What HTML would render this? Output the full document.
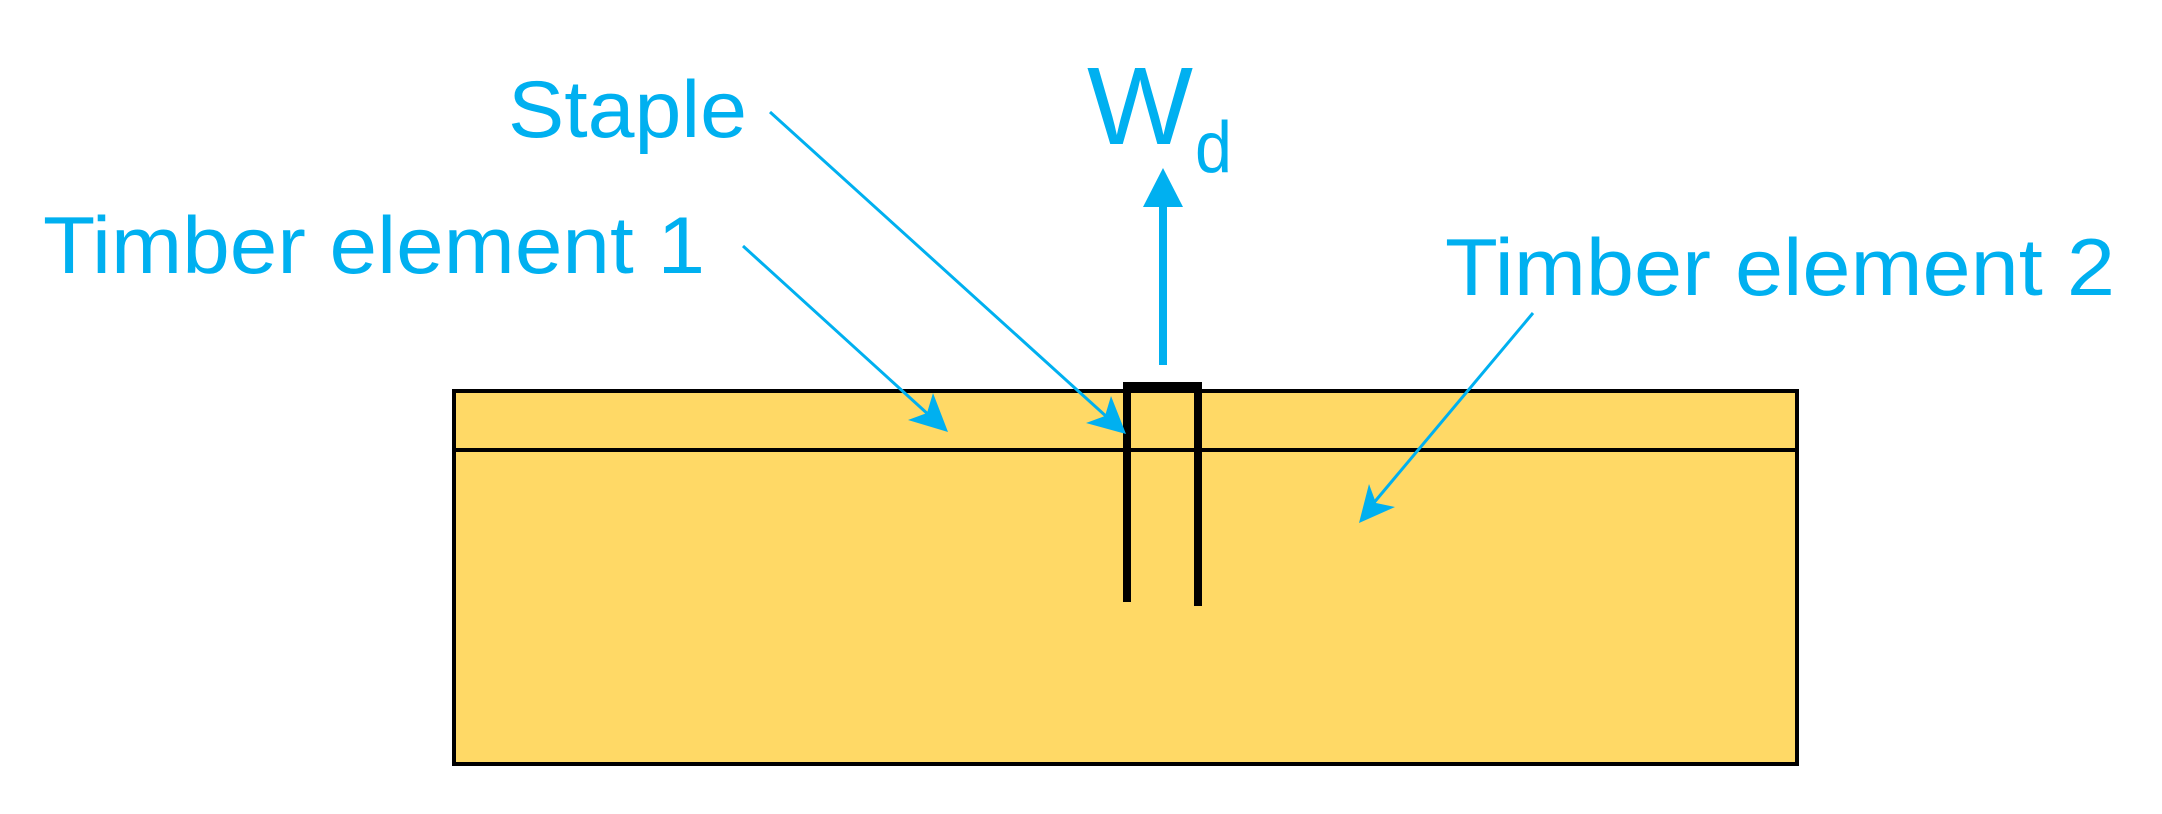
<!DOCTYPE html>
<html>
<head>
<meta charset="utf-8">
<style>
  html, body { margin: 0; padding: 0; background: #ffffff; }
  svg { display: block; }
  text { font-family: "Liberation Sans", "DejaVu Sans", sans-serif; fill: #00B0F0; }
</style>
</head>
<body>
<svg width="2162" height="814" viewBox="0 0 2162 814" xmlns="http://www.w3.org/2000/svg">
  <rect x="0" y="0" width="2162" height="814" fill="#ffffff"/>
  <!-- timber block -->
  <rect x="454" y="391" width="1343" height="373" fill="#FFD966" stroke="#000" stroke-width="4"/>
  <line x1="454" y1="450" x2="1797" y2="450" stroke="#000" stroke-width="4"/>

  <!-- staple -->
  <path d="M1127,602 V386 H1198 V606" fill="none" stroke="#000" stroke-width="8" stroke-linejoin="miter"/>

  <!-- Wd arrow -->
  <line x1="1163" y1="365" x2="1163" y2="204" stroke="#00B0F0" stroke-width="8"/>
  <polygon points="1163,168 1183,207 1143,207" fill="#00B0F0"/>

  <!-- leader: Timber element 1 -->
  <line x1="743" y1="246" x2="930" y2="416" stroke="#00B0F0" stroke-width="3"/>
  <polygon points="948,432 908,420 927,413 933,393" fill="#00B0F0"/>

  <!-- leader: Staple -->
  <line x1="770" y1="112" x2="1108" y2="418" stroke="#00B0F0" stroke-width="3"/>
  <polygon points="1126,434 1086,423 1105,416 1111,396" fill="#00B0F0"/>

  <!-- leader: Timber element 2 -->
  <line x1="1533" y1="313" x2="1372" y2="505" stroke="#00B0F0" stroke-width="3"/>
  <polygon points="1359,523 1369,484 1376,503 1395,507" fill="#00B0F0"/>

  <!-- labels -->
  <text x="508" y="137" font-size="81" textLength="239" lengthAdjust="spacingAndGlyphs">Staple</text>
  <text x="43" y="273" font-size="81" textLength="662" lengthAdjust="spacingAndGlyphs">Timber element 1</text>
  <text x="1445" y="295" font-size="81" textLength="670" lengthAdjust="spacingAndGlyphs">Timber element 2</text>
  <text x="1087" y="144" font-size="110" textLength="106" lengthAdjust="spacingAndGlyphs">W</text>
  <text x="1195" y="172" font-size="72" textLength="37" lengthAdjust="spacingAndGlyphs">d</text>
</svg>
</body>
</html>
